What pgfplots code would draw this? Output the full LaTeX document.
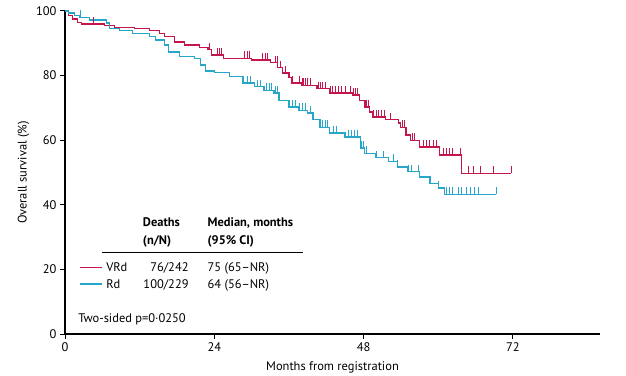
\documentclass[border=0pt]{standalone}
\usepackage{fontspec}
\setmainfont{PT Sans}
\usepackage{pgfplots}
\pgfplotsset{compat=1.18}
\definecolor{vrd}{RGB}{196,22,74}
\definecolor{rd}{RGB}{38,166,200}
\pgfdeclareplotmark{cens}{\pgfpathmoveto{\pgfpointorigin}\pgfpathlineto{\pgfpoint{0pt}{\pgfplotmarksize}}\pgfusepathqstroke}
\begin{document}
\begin{tikzpicture}
\useasboundingbox (-65bp,-42bp) rectangle (561bp,334bp);
\begin{axis}[
  scale only axis, width=535bp, height=323bp,
  xmin=0, xmax=86, ymin=0, ymax=100,
  axis lines*=left, clip=false,
  axis line style={black, line width=1.3pt},
  xtick={0,24,48,72}, ytick={0,20,40,60,80,100},
  tick align=outside, major tick length=5bp,
  tick style={black, line width=1pt},
  /pgf/number format/assume math mode=true,
  tick label style={font=\fontsize{12.5}{14}\selectfont},
  label style={font=\fontsize{12.5}{14}\selectfont},
  xlabel={Months from registration},
  ylabel={Overall survival (\%)},
  xlabel style={yshift=-3bp},
  ylabel style={yshift=0bp},
]
% VRd
\addplot[const plot, vrd, line width=1.2pt] coordinates {
(0,100) (0.5,98.5) (1.2,97.5) (2.0,96.5) (2.6,96) (6.4,95.4) (8.0,95) (11.2,94.5)
(13.6,94) (15.2,93) (16.0,92) (17.6,90.4) (19.2,89.5) (21.6,88.6) (23.0,88)
(23.5,86.4) (25.5,85.4) (30.0,84.8) (33.0,84) (34.2,82.4) (35.0,80.8) (36.0,79.3)
(36.5,77.7) (38.0,77) (40.5,76) (42.5,74.6) (46.2,74) (47.4,72.4) (48.2,70.3)
(49.0,68.7) (49.4,67.2) (51.5,66.3) (53.6,65.3) (53.9,64) (54.8,61.6) (55.5,60)
(57.0,57.9) (60.2,55.4) (63.8,49.8) (71.7,49.8)
};
\addplot[only marks, mark=cens, mark size=7bp, vrd, line width=0.8pt] coordinates {
(4.5,96) (23.2,88) (24.5,86.4) (24.8,86.4) (25.1,86.4)
(28.8,85.4) (29.3,85.4) (29.6,85.4) (31.7,84.8) (32.2,84.8) (32.5,84.8)
(33.8,84) (34.1,84) (34.7,82.4) (35.5,80.8) (36.6,77.7)
(37.6,77.7) (38.1,77) (38.4,77) (38.7,77) (39.0,77) (39.5,77)
(40.8,76) (41.1,76) (41.4,76) (41.8,76)
(42.6,74.6) (43.0,74.6) (43.5,74.6) (44.0,74.6) (44.5,74.6) (45.0,74.6)
(45.8,74.6) (46.4,74) (46.7,74) (47.0,74)
(48.3,70.3) (48.5,70.3) (48.8,70.3)
(49.6,67.2) (50.1,67.2) (50.4,67.2) (50.9,67.2) (51.3,67.2)
(52.3,66.3) (54.2,64) (54.6,64) (55.8,60) (56.2,60)
(57.6,57.9) (58.1,57.9) (58.6,57.9) (59.2,57.9) (59.7,57.9)
(60.8,55.4) (61.3,55.4) (61.8,55.4) (62.2,55.4) (63.6,55.4)
(64.8,49.8) (65.6,49.8) (66.7,49.8) (68.8,49.8) (71.7,49.8)
};
% Rd
\addplot[const plot, rd, line width=1.2pt] coordinates {
(0,100) (0.6,99.4) (1.5,98.5) (2.4,98) (4.0,97.2) (6.7,96.3) (7.2,94.7) (8.8,94)
(10.9,93) (13.6,92) (14.6,91) (16.0,89.5) (16.6,87.3) (18.4,85.8) (20.8,85.4)
(21.8,83.3) (22.6,81.4) (24.0,81) (26.4,79.6) (28.6,77.7) (30.4,76.5) (32.0,75.5)
(33.6,74.6) (34.4,72.4) (36.0,70.3) (37.6,69.3) (39.0,68.4) (40.0,66.3) (41.0,64)
(42.5,62.2) (45.0,61) (47.5,57.6) (48.2,56) (50.0,54.6) (52.0,53.5) (53.4,51.7)
(55.0,50.2) (57.0,48.6) (58.6,46.7) (60.0,45.2) (61.0,43.2) (69.3,43.2)
};
\addplot[only marks, mark=cens, mark size=7bp, rd, line width=0.8pt] coordinates {
(2.4,98) (29.3,77.7) (29.8,77.7) (30.9,76.5) (31.4,76.5)
(32.3,75.5) (32.8,75.5) (33.1,75.5) (33.8,74.6) (34.2,74.6)
(36.0,70.3) (36.5,70.3) (37.1,70.3) (37.6,69.3) (38.1,69.3) (38.6,69.3)
(39.4,68.4) (39.8,66.3) (41.3,64) (41.8,64) (42.2,64) (43.2,62.2) (43.7,62.2)
(45.6,61) (46.1,61) (46.6,61) (47.0,61) (47.6,57.6) (48.0,57.6) (48.5,56)
(50.1,54.6) (51.2,54.6) (52.8,53.5) (53.5,51.7) (55.2,50.2) (55.7,50.2) (56.8,50.2)
(58.7,46.7) (60.0,45.2)
(61.3,43.2) (61.8,43.2) (62.2,43.2) (63.2,43.2) (63.8,43.2) (64.5,43.2)
(65.1,43.2) (65.8,43.2) (66.4,43.2) (69.3,43.2)
};
% legend samples
\addplot[vrd, line width=1.2pt, forget plot] coordinates {(2.4,20.7) (5.9,20.7)};
\addplot[rd, line width=1.2pt, forget plot] coordinates {(2.4,15.5) (5.9,15.5)};
\draw[black, line width=0.9pt] (axis cs:5.9,25.1) -- (axis cs:38.2,25.1);
\begin{scope}[every node/.style={font=\fontsize{12.5}{14}\selectfont, inner sep=0pt}]
\node[anchor=base west] at (axis cs:12.5,33.4) {\bfseries Deaths};
\node[anchor=base west] at (axis cs:12.5,27.8) {\bfseries (n/N)};
\node[anchor=base west] at (axis cs:22.9,33.4) {\bfseries Median, months};
\node[anchor=base west] at (axis cs:22.9,27.8) {\bfseries (95\% CI)};
\node[anchor=base west] at (axis cs:6.6,19.4) {VRd};
\node[anchor=base west] at (axis cs:6.6,14.2) {Rd};
\node[anchor=base east] at (axis cs:19.9,19.4) {76/242};
\node[anchor=base east] at (axis cs:19.9,14.2) {100/229};
\node[anchor=base west] at (axis cs:22.9,19.4) {75 (65--NR)};
\node[anchor=base west] at (axis cs:22.9,14.2) {64 (56--NR)};
\node[anchor=base west] at (axis cs:2.1,3.7) {Two-sided p=0·0250};
\end{scope}
\end{axis}
\end{tikzpicture}
\end{document}
